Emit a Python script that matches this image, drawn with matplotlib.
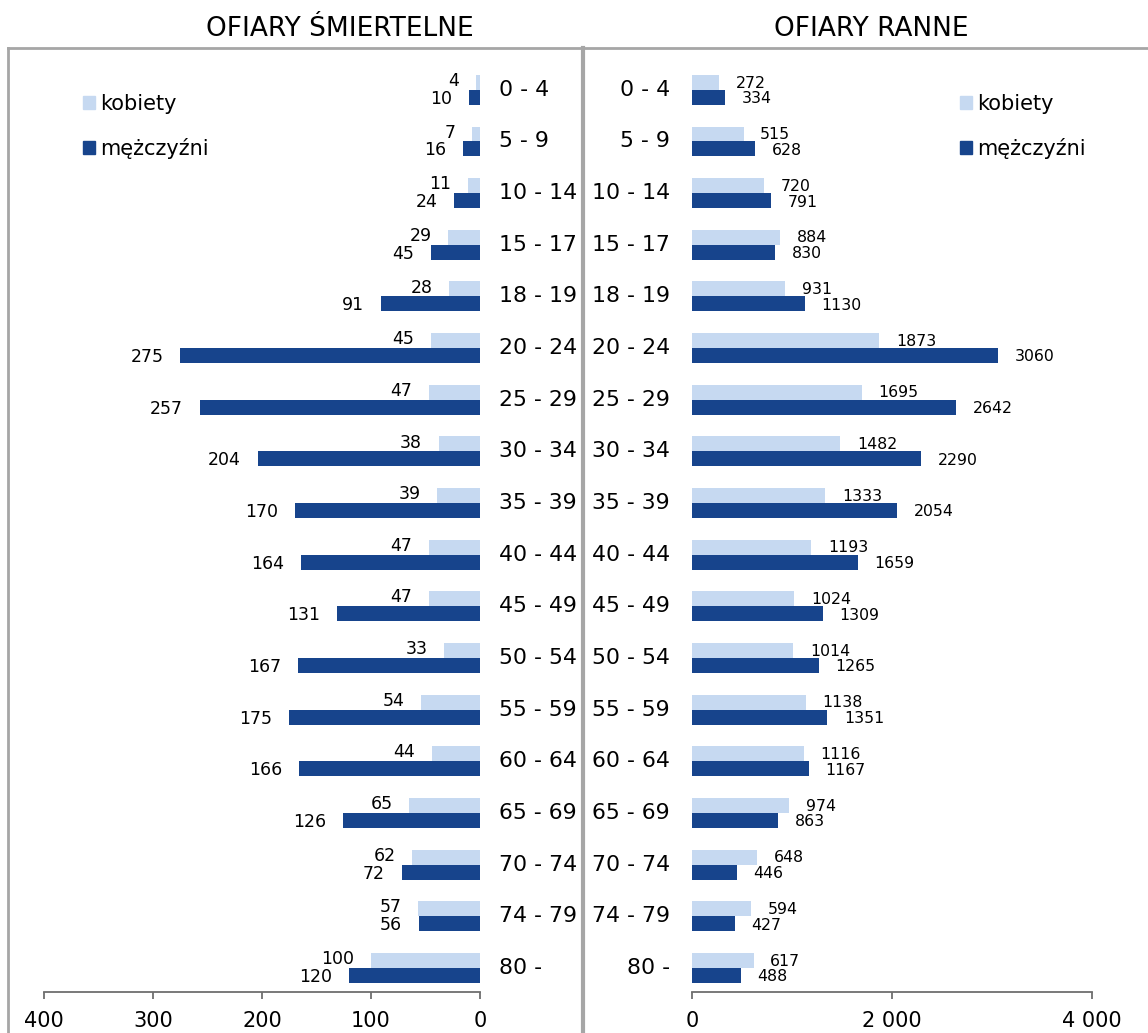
import matplotlib
matplotlib.use("Agg")
import matplotlib.pyplot as plt
from matplotlib.lines import Line2D
from matplotlib.patches import Patch
import numpy as np

# ~~~ data ~~~
ageGroups = ["0 - 4", "5 - 9", "10 - 14", "15 - 17", "18 - 19", "20 - 24",
             "25 - 29", "30 - 34", "35 - 39", "40 - 44", "45 - 49", "50 - 54",
             "55 - 59", "60 - 64", "65 - 69", "70 - 74", "74 - 79", "80 -"]
deathsWomen = [4, 7, 11, 29, 28, 45, 47, 38, 39, 47, 47, 33, 54, 44, 65, 62,
               57, 100]
deathsMen = [10, 16, 24, 45, 91, 275, 257, 204, 170, 164, 131, 167, 175, 166,
             126, 72, 56, 120]
injuredWomen = [272, 515, 720, 884, 931, 1873, 1695, 1482, 1333, 1193, 1024,
                1014, 1138, 1116, 974, 648, 594, 617]
injuredMen = [334, 628, 791, 830, 1130, 3060, 2642, 2290, 2054, 1659, 1309,
              1265, 1351, 1167, 863, 446, 427, 488]
deathTicks = [400, 300, 200, 100, 0]
injuredTicks = [0, 2000, 4000]
injuredTickLabels = ["0", "2 000", "4 000"]

LIGHT = "#C6D9F1"
DARK = "#17448C"
FRAME = "#A6A6A6"
AXIS = "#6E6E6E"

W, H = 1148, 1033
fig = plt.figure(figsize=(W / 100, H / 100), dpi=100)
plt.rcParams['font.family'] = ['DejaVu Sans']

y = np.arange(len(ageGroups))
barH = 0.29
yTop, yBot = 64, 992


def axesRect(x0, x1):
    return [x0 / W, (H - yBot) / H, (x1 - x0) / W, (yBot - yTop) / H]


def styleAxis(ax):
    for side in ['top', 'right', 'left']:
        ax.spines[side].set_visible(False)
    ax.spines['bottom'].set_color(AXIS)
    ax.spines['bottom'].set_linewidth(1.3)
    ax.tick_params(axis='x', direction='out', length=5, width=1.3,
                   color=AXIS, labelsize=15, pad=9)
    ax.set_yticks([])
    ax.set_ylim(len(ageGroups) - 1 + 0.466, -0.5)
    ax.patch.set_alpha(0)


def addLegend(ax, xAnchor):
    ax.legend(handles=[Patch(color=LIGHT, label='kobiety'),
                       Patch(color=DARK, label='mężczyźni')],
              loc='upper left', bbox_to_anchor=(xAnchor, 0.977),
              frameon=False, fontsize=15, handlelength=0.58,
              handleheight=0.58, handletextpad=0.25, labelspacing=1.15,
              borderaxespad=0)


# ~~~ left panel: deaths ~~~
axL = fig.add_axes(axesRect(44, 480))
axL.barh(y - barH / 2, deathsWomen, height=barH, color=LIGHT)
axL.barh(y + barH / 2, deathsMen, height=barH, color=DARK)
axL.set_xlim(400, 0)
axL.set_xticks(deathTicks)
axL.set_xticklabels([str(t) for t in deathTicks])
styleAxis(axL)
for i in range(len(ageGroups)):
    axL.annotate(str(deathsWomen[i]), (deathsWomen[i], y[i] - barH / 2),
                 xytext=(-12, 1), textcoords='offset points', ha='right',
                 va='center', fontsize=12.5)
    axL.annotate(str(deathsMen[i]), (deathsMen[i], y[i] + barH / 2),
                 xytext=(-12, -1), textcoords='offset points', ha='right',
                 va='center', fontsize=12.5)
    axL.annotate(ageGroups[i], (0, y[i]), xytext=(14, 0),
                 textcoords='offset points', ha='left', va='center',
                 fontsize=15.8, annotation_clip=False)
addLegend(axL, 0.07)

# ~~~ right panel: injured ~~~
axR = fig.add_axes(axesRect(692, 1092))
axR.barh(y - barH / 2, injuredWomen, height=barH, color=LIGHT)
axR.barh(y + barH / 2, injuredMen, height=barH, color=DARK)
axR.set_xlim(0, 4000)
axR.set_xticks(injuredTicks)
axR.set_xticklabels(injuredTickLabels)
styleAxis(axR)
for i in range(len(ageGroups)):
    axR.annotate(str(injuredWomen[i]), (injuredWomen[i], y[i] - barH / 2),
                 xytext=(12, -0.5), textcoords='offset points', ha='left',
                 va='center', fontsize=11.3)
    axR.annotate(str(injuredMen[i]), (injuredMen[i], y[i] + barH / 2),
                 xytext=(12, -1), textcoords='offset points', ha='left',
                 va='center', fontsize=11.3)
    axR.annotate(ageGroups[i], (0, y[i]), xytext=(-16, 0),
                 textcoords='offset points', ha='right', va='center',
                 fontsize=15.8, annotation_clip=False)
addLegend(axR, 0.6485)

# ~~~ titles and frame ~~~
fig.text(340 / W, 1 - 29 / H, 'OFIARY ŚMIERTELNE', ha='center',
         va='center', fontsize=19)
fig.text(871 / W, 1 - 29 / H, 'OFIARY RANNE', ha='center', va='center',
         fontsize=19)
fig.add_artist(Line2D([8 / W, 1], [1 - 48 / H] * 2, color=FRAME, lw=2))
fig.add_artist(Line2D([8 / W] * 2, [0, 1 - 48 / H], color=FRAME, lw=2))
fig.add_artist(Line2D([583 / W] * 2, [0, 1 - 48 / H], color=FRAME, lw=3))

fig.savefig('out.png', dpi=100)
